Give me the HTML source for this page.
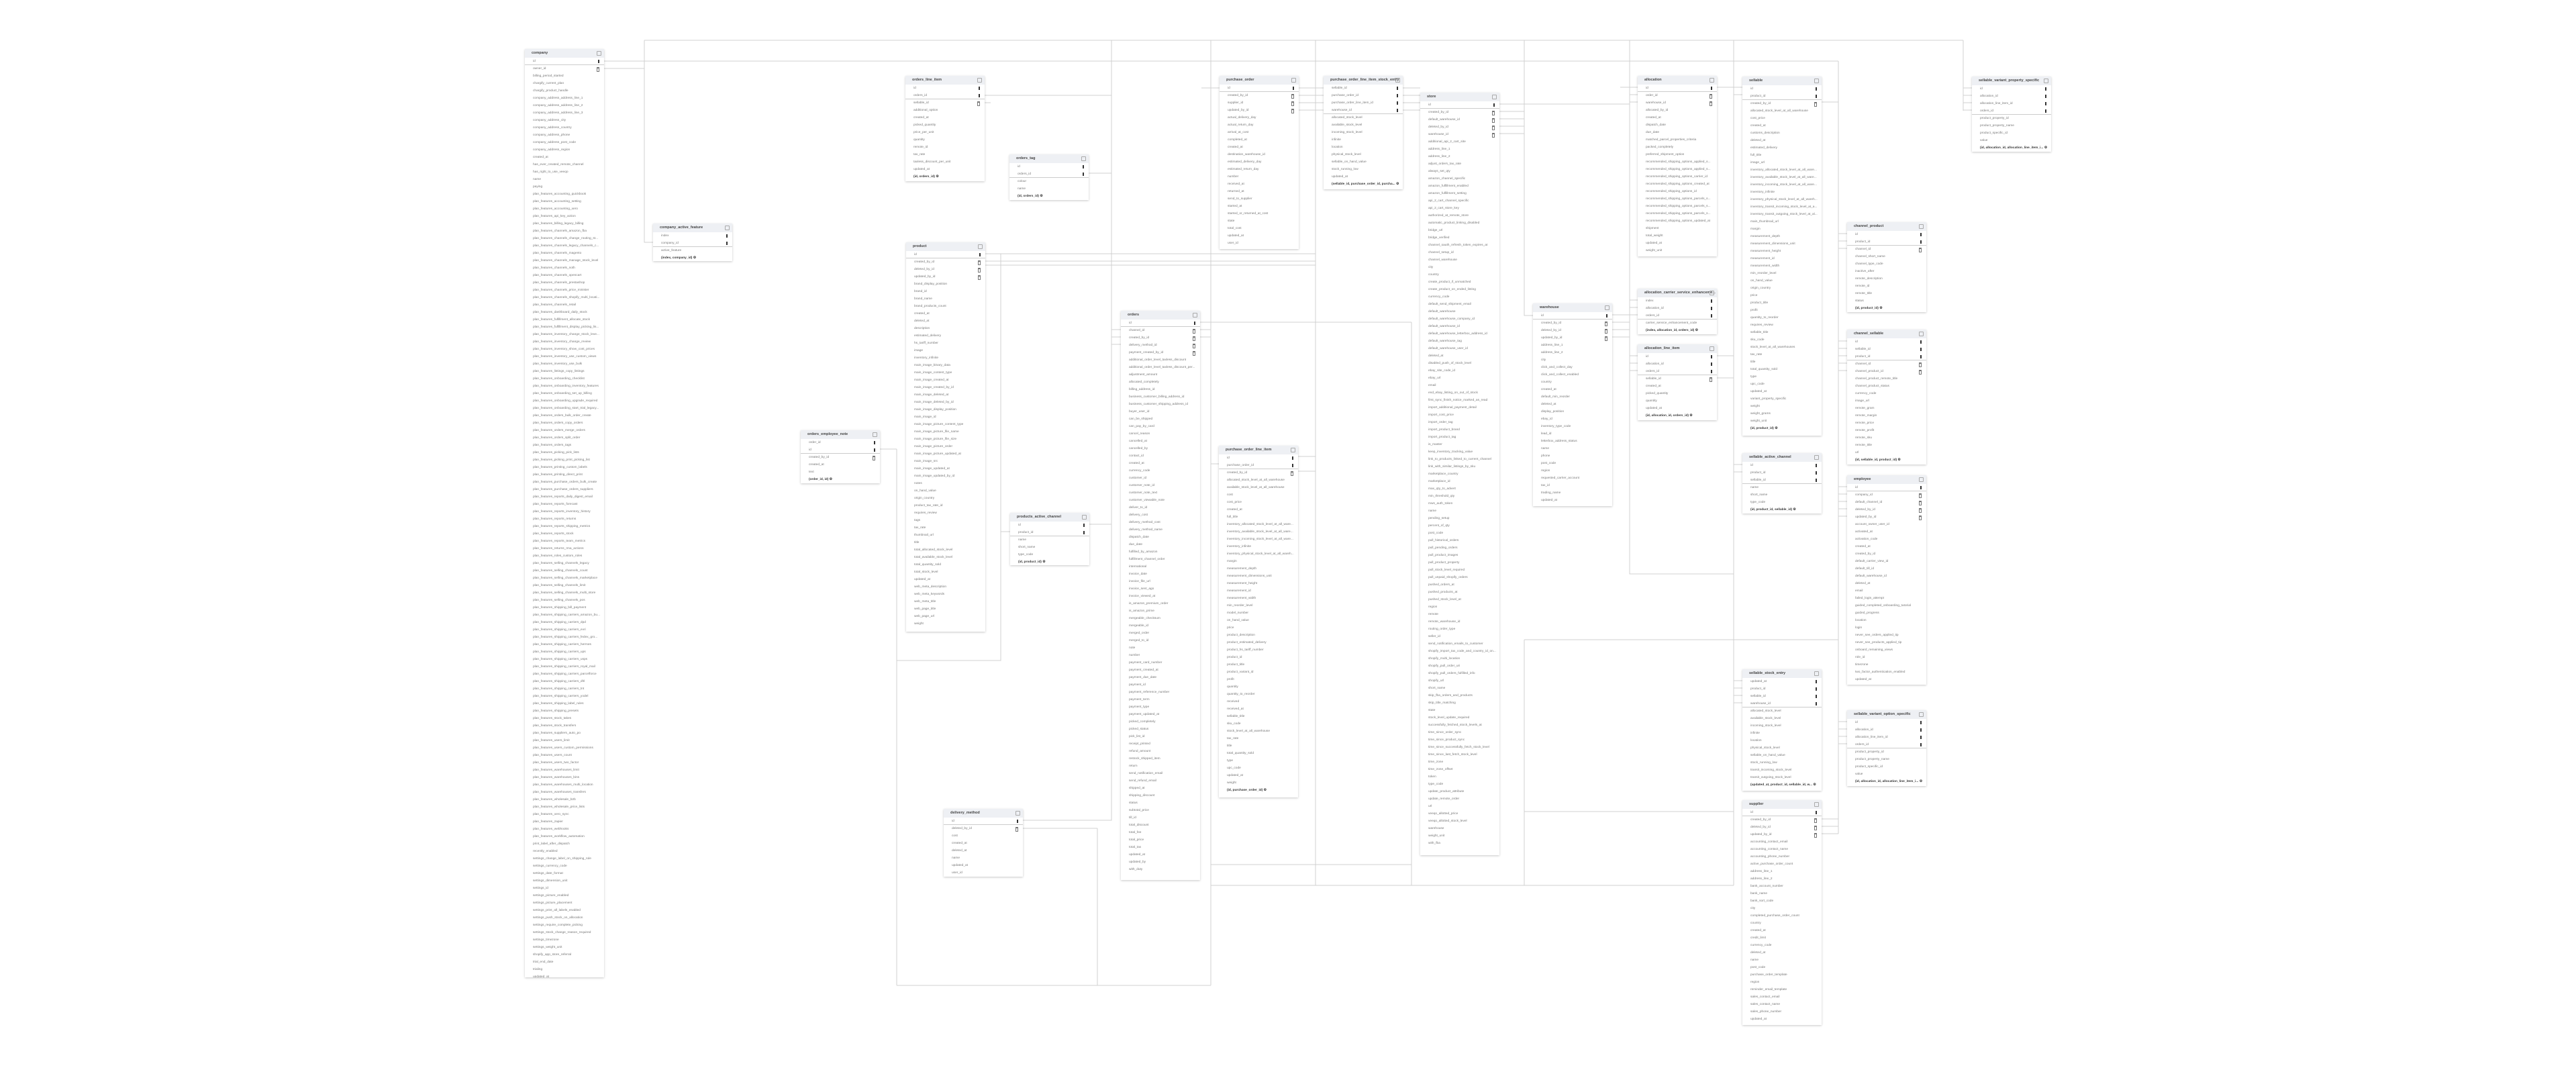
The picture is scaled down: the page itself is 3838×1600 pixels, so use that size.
<!DOCTYPE html>
<html><head><meta charset="utf-8"><style>
html,body{margin:0;padding:0;background:#fff;width:3838px;height:1600px;overflow:hidden;position:relative;font-family:"Liberation Sans",sans-serif}
svg.ln{position:absolute;left:0;top:0}
.t{position:absolute;width:118px;background:#fff;box-shadow:0 1px 3px rgba(0,0,0,.22);overflow:hidden}
.t h4{margin:0;height:13px;line-height:13px;background:#eef0f4;font-size:5.5px;font-weight:bold;color:#444;padding-left:10px;position:relative;white-space:nowrap}
.t h4:after{content:"";position:absolute;right:4px;top:3px;width:5px;height:5px;border:1px solid #aaa;border-radius:1px}
.t p{margin:0;height:11px;line-height:11px;font-size:4.8px;color:#777;padding-left:12px;position:relative;white-space:nowrap;overflow:hidden;padding-right:14px}
.t p.k:after{content:"";position:absolute;right:7px;top:3px;width:2px;height:5px;background:#333}
.t p.f:after{content:"";position:absolute;right:7px;top:3px;width:2px;height:4px;border:1px solid #777;border-top-width:2px}
.t p.s{border-bottom:1px solid #ccc;height:10px}
.t p.b{color:#333;font-weight:bold}
</style></head><body>
<svg class="ln" width="3838" height="1600" stroke="#d0d0d0" stroke-width="1" fill="none">
<path d="M960 60H2925M960 60V361H973M900 91H2739M900 102H960M2925 60V165M2925 131H2938M2925 142H2938M2925 153H2938M2925 164H2938"/>
<path d="M2739 91V1242M1656 60V1222H1524M1804 60V1468M1960 60V1319M2103 480V1319M1788 480H2103M2271 60V470H2284M2271 953V1319M2428 60V855H2583M2583 60V1319"/>
<path d="M1336 669V1468M1310 669H1336M1491 378V984H1336M1635 1234V1468M1524 1234H1635M1336 1468H1804M1804 1288H2103M1804 1319H2583M2271 1209H2583M2271 953H2739"/>
<path d="M1468 378H1960M1468 389H1960M1468 395H1960M2234 155H2428M2234 166H2271M2234 177H2271M2234 188H2271M2234 199H2271"/>
<path d="M1466 142H1656M1466 153H1476M1622 258H1656M1790 131H1817M1935 131H1972M1935 142H1972M1935 153H1972M1935 164H1972M2090 131H2116M2090 142H2116M2090 153H2116M2090 164H2116"/>
<path d="M1656 491H1670M1656 502H1670M1656 513H1670M1788 491H1804M1788 502H1804M1622 781H1656M1491 792H1505M1934 680H1960M1804 691H1816M1934 702H1960"/>
<path d="M2414 130H2440M2558 130H2583M2428 141H2440M2428 152H2440M2583 130H2596M2583 141H2596M2714 152H2739"/>
<path d="M2739 348H2752M2739 359H2752M2739 370H2752M2739 508H2752M2739 519H2752M2739 530H2752M2739 541H2752M2739 552H2752M2739 725H2752M2739 736H2752M2739 747H2752M2739 758H2752M2739 769H2752M2739 1075H2752M2739 1086H2752M2739 1097H2752M2739 1108H2752"/>
<path d="M2583 692H2596M2583 703H2596M2583 1014H2596M2583 1025H2596M2583 1036H2596M2583 1047H2596M2714 1220H2739M2714 1231H2739M2714 1242H2739M2402 469H2428M2402 480H2428M2402 491H2428M2402 502H2428M2428 447H2440M2428 458H2440M2428 469H2440M2428 530H2440M2428 541H2440M2428 552H2440M2558 530H2583M2558 563H2583"/>
</svg>

<div class="t" style="left:782px;top:73px;height:1383px"><h4>company</h4>
<p class="k s">id</p><p class="f">owner_id</p><p>billing_period_started</p><p>chargify_current_plan</p><p>chargify_product_handle</p><p>company_address_address_line_1</p><p>company_address_address_line_2</p><p>company_address_address_line_3</p><p>company_address_city</p><p>company_address_country</p><p>company_address_phone</p><p>company_address_post_code</p><p>company_address_region</p><p>created_at</p><p>has_ever_created_remote_channel</p><p>has_right_to_use_veeqo</p><p>name</p><p>paying</p>
<p>plan_features_accounting_quickbook</p><p>plan_features_accounting_setting</p><p>plan_features_accounting_xero</p><p>plan_features_api_key_action</p><p>plan_features_billing_legacy_billing</p><p>plan_features_channels_amazon_fba</p><p>plan_features_channels_change_routing_st...</p><p>plan_features_channels_legacy_channels_c...</p><p>plan_features_channels_magento</p><p>plan_features_channels_manage_stock_level</p><p>plan_features_channels_noth</p><p>plan_features_channels_opencart</p><p>plan_features_channels_prestashop</p><p>plan_features_channels_price_minister</p><p>plan_features_channels_shopify_multi_locati...</p><p>plan_features_channels_retail</p><p>plan_features_dashboard_daily_stock</p><p>plan_features_fulfillment_allocate_stock</p><p>plan_features_fulfillment_display_picking_lis...</p><p>plan_features_inventory_change_stock_leve...</p><p>plan_features_inventory_change_review</p><p>plan_features_inventory_show_cost_prices</p><p>plan_features_inventory_use_custom_views</p><p>plan_features_inventory_use_bulk</p><p>plan_features_listings_copy_listings</p><p>plan_features_onboarding_checklist</p><p>plan_features_onboarding_inventory_features</p><p>plan_features_onboarding_set_up_billing</p><p>plan_features_onboarding_upgrade_required</p><p>plan_features_onboarding_start_trial_legacy...</p><p>plan_features_orders_bulk_order_create</p><p>plan_features_orders_copy_orders</p><p>plan_features_orders_merge_orders</p><p>plan_features_orders_split_order</p><p>plan_features_orders_tags</p><p>plan_features_picking_pick_lists</p><p>plan_features_picking_print_picking_list</p><p>plan_features_printing_custom_labels</p><p>plan_features_printing_direct_print</p><p>plan_features_purchase_orders_bulk_create</p><p>plan_features_purchase_orders_suppliers</p><p>plan_features_reports_daily_digest_email</p><p>plan_features_reports_forecast</p><p>plan_features_reports_inventory_history</p><p>plan_features_reports_returns</p><p>plan_features_reports_shipping_metrics</p><p>plan_features_reports_stock</p><p>plan_features_reports_team_metrics</p><p>plan_features_returns_rma_actions</p><p>plan_features_roles_custom_roles</p><p>plan_features_selling_channels_legacy</p><p>plan_features_selling_channels_count</p><p>plan_features_selling_channels_marketplace</p><p>plan_features_selling_channels_limit</p><p>plan_features_selling_channels_multi_store</p><p>plan_features_selling_channels_pos</p><p>plan_features_shipping_bill_payment</p><p>plan_features_shipping_carriers_amazon_bu...</p><p>plan_features_shipping_carriers_dpd</p><p>plan_features_shipping_carriers_evri</p><p>plan_features_shipping_carriers_fedex_gro...</p><p>plan_features_shipping_carriers_hermes</p><p>plan_features_shipping_carriers_ups</p><p>plan_features_shipping_carriers_usps</p><p>plan_features_shipping_carriers_royal_mail</p><p>plan_features_shipping_carriers_parcelforce</p><p>plan_features_shipping_carriers_dhl</p><p>plan_features_shipping_carriers_tnt</p><p>plan_features_shipping_carriers_yodel</p><p>plan_features_shipping_label_rules</p><p>plan_features_shipping_presets</p><p>plan_features_stock_takes</p><p>plan_features_stock_transfers</p><p>plan_features_suppliers_auto_po</p><p>plan_features_users_limit</p><p>plan_features_users_custom_permissions</p><p>plan_features_users_count</p><p>plan_features_users_two_factor</p><p>plan_features_warehouses_limit</p><p>plan_features_warehouses_bins</p><p>plan_features_warehouses_multi_location</p><p>plan_features_warehouses_transfers</p><p>plan_features_wholesale_b2b</p><p>plan_features_wholesale_price_lists</p><p>plan_features_xero_sync</p><p>plan_features_zapier</p><p>plan_features_webhooks</p><p>plan_features_workflow_automation</p>
<p>print_label_after_dispatch</p><p>recently_enabled</p><p>settings_change_label_on_shipping_rule</p><p>settings_currency_code</p><p>settings_date_format</p><p>settings_dimension_unit</p><p>settings_id</p><p>settings_picture_enabled</p><p>settings_picture_placement</p><p>settings_print_all_labels_enabled</p><p>settings_push_stock_on_allocation</p><p>settings_require_complete_picking</p><p>settings_stock_change_reason_required</p><p>settings_timezone</p><p>settings_weight_unit</p><p>shopify_app_store_referral</p><p>trial_end_date</p><p>trialing</p><p>updated_at</p><p>veeqo_product_name</p></div>

<div class="t" style="left:973px;top:333px;height:56px"><h4>company_active_feature</h4>
<p class="k">index</p><p class="k s">company_id</p><p>active_feature</p><p class="b">(index, company_id) ⚙</p></div>

<div class="t" style="left:1193px;top:641px;height:79px"><h4>orders_employee_note</h4>
<p class="k">order_id</p><p class="k s">id</p><p class="f">created_by_id</p><p>created_at</p><p>text</p><p class="b">(order_id, id) ⚙</p></div>

<div class="t" style="left:1349px;top:113px;height:157px"><h4>orders_line_item</h4>
<p class="k">id</p><p class="k s">orders_id</p><p class="f">sellable_id</p><p>additional_option</p><p>created_at</p><p>picked_quantity</p><p>price_per_unit</p><p>quantity</p><p>remote_id</p><p>tax_rate</p><p>taxless_discount_per_unit</p><p>updated_at</p><p class="b">(id, orders_id) ⚙</p></div>

<div class="t" style="left:1504px;top:230px;height:68px"><h4>orders_tag</h4>
<p class="k">id</p><p class="k s">orders_id</p><p>colour</p><p>name</p><p class="b">(id, orders_id) ⚙</p></div>

<div class="t" style="left:1350px;top:361px;height:580px"><h4>product</h4>
<p class="k s">id</p><p class="f">created_by_id</p><p class="f">deleted_by_id</p><p class="f">updated_by_id</p><p>brand_display_position</p><p>brand_id</p><p>brand_name</p><p>brand_products_count</p><p>created_at</p><p>deleted_at</p><p>description</p><p>estimated_delivery</p><p>hs_tariff_number</p><p>image</p><p>inventory_infinite</p><p>main_image_binary_data</p><p>main_image_content_type</p><p>main_image_created_at</p><p>main_image_created_by_id</p><p>main_image_deleted_at</p><p>main_image_deleted_by_id</p><p>main_image_display_position</p><p>main_image_id</p><p>main_image_picture_content_type</p><p>main_image_picture_file_name</p><p>main_image_picture_file_size</p><p>main_image_picture_order</p><p>main_image_picture_updated_at</p><p>main_image_src</p><p>main_image_updated_at</p><p>main_image_updated_by_id</p><p>notes</p><p>on_hand_value</p><p>origin_country</p><p>product_tax_rate_id</p><p>requires_review</p><p>tags</p><p>tax_rate</p><p>thumbnail_url</p><p>title</p><p>total_allocated_stock_level</p><p>total_available_stock_level</p><p>total_quantity_sold</p><p>total_stock_level</p><p>updated_at</p><p>web_meta_description</p><p>web_meta_keywords</p><p>web_meta_title</p><p>web_page_title</p><p>web_page_url</p><p>weight</p></div>

<div class="t" style="left:1505px;top:764px;height:78px"><h4>products_active_channel</h4>
<p class="k">id</p><p class="k s">product_id</p><p>name</p><p>short_name</p><p>type_code</p><p class="b">(id, product_id) ⚙</p></div>

<div class="t" style="left:1406px;top:1205px;height:101px"><h4>delivery_method</h4>
<p class="k s">id</p><p class="f">deleted_by_id</p><p>cost</p><p>created_at</p><p>deleted_at</p><p>name</p><p>updated_at</p><p>user_id</p></div>

<div class="t" style="left:1670px;top:463px;height:848px"><h4>orders</h4>
<p class="k s">id</p><p class="f">channel_id</p><p class="f">created_by_id</p><p class="f">delivery_method_id</p><p class="f">payment_created_by_id</p><p>additional_order_level_taxless_discount</p><p>additional_order_level_taxless_discount_per...</p><p>adjustment_amount</p><p>allocated_completely</p><p>billing_address_id</p><p>business_customer_billing_address_id</p><p>business_customer_shipping_address_id</p><p>buyer_user_id</p><p>can_be_shipped</p><p>can_pay_by_card</p><p>cancel_reason</p><p>cancelled_at</p><p>cancelled_by</p><p>contact_id</p><p>created_at</p><p>currency_code</p><p>customer_id</p><p>customer_note_id</p><p>customer_note_text</p><p>customer_viewable_note</p><p>deliver_to_id</p><p>delivery_cost</p><p>delivery_method_cost</p><p>delivery_method_name</p><p>dispatch_date</p><p>due_date</p><p>fulfilled_by_amazon</p><p>fulfillment_channel_order</p><p>international</p><p>invoice_date</p><p>invoice_file_url</p><p>invoice_sent_ago</p><p>invoice_viewed_at</p><p>is_amazon_premium_order</p><p>is_amazon_prime</p><p>mergeable_checksum</p><p>mergeable_id</p><p>merged_order</p><p>merged_to_id</p><p>note</p><p>number</p><p>payment_card_number</p><p>payment_created_at</p><p>payment_due_date</p><p>payment_id</p><p>payment_reference_number</p><p>payment_term</p><p>payment_type</p><p>payment_updated_at</p><p>picked_completely</p><p>picked_status</p><p>pick_list_id</p><p>receipt_printed</p><p>refund_amount</p><p>restock_shipped_item</p><p>return</p><p>send_notification_email</p><p>send_refund_email</p><p>shipped_at</p><p>shipping_discount</p><p>status</p><p>subtotal_price</p><p>till_id</p><p>total_discount</p><p>total_fee</p><p>total_price</p><p>total_tax</p><p>updated_at</p><p>updated_by</p><p>with_duty</p></div>

<div class="t" style="left:1817px;top:113px;height:258px"><h4>purchase_order</h4>
<p class="k s">id</p><p class="f">created_by_id</p><p class="f">supplier_id</p><p class="f">updated_by_id</p><p>actual_delivery_day</p><p>actual_return_day</p><p>arrival_at_cost</p><p>completed_at</p><p>created_at</p><p>destination_warehouse_id</p><p>estimated_delivery_day</p><p>estimated_return_day</p><p>number</p><p>received_at</p><p>returned_at</p><p>send_to_supplier</p><p>started_at</p><p>started_or_returned_at_cost</p><p>state</p><p>total_cost</p><p>updated_at</p><p>user_id</p></div>

<div class="t" style="left:1816px;top:664px;height:524px"><h4>purchase_order_line_item</h4>
<p class="k">id</p><p class="k s">purchase_order_id</p><p class="f">created_by_id</p><p>allocated_stock_level_at_all_warehouse</p><p>available_stock_level_at_all_warehouse</p><p>cost</p><p>cost_price</p><p>created_at</p><p>full_title</p><p>inventory_allocated_stock_level_at_all_ware...</p><p>inventory_available_stock_level_at_all_ware...</p><p>inventory_incoming_stock_level_at_all_ware...</p><p>inventory_infinite</p><p>inventory_physical_stock_level_at_all_wareh...</p><p>margin</p><p>measurement_depth</p><p>measurement_dimensions_unit</p><p>measurement_height</p><p>measurement_id</p><p>measurement_width</p><p>min_reorder_level</p><p>model_number</p><p>on_hand_value</p><p>price</p><p>product_description</p><p>product_estimated_delivery</p><p>product_hs_tariff_number</p><p>product_id</p><p>product_title</p><p>product_variant_id</p><p>profit</p><p>quantity</p><p>quantity_to_reorder</p><p>received</p><p>received_at</p><p>sellable_title</p><p>sku_code</p><p>stock_level_at_all_warehouse</p><p>tax_rate</p><p>title</p><p>total_quantity_sold</p><p>type</p><p>upc_code</p><p>updated_at</p><p>weight</p><p class="b">(id, purchase_order_id) ⚙</p></div>

<div class="t" style="left:1972px;top:113px;height:169px"><h4>purchase_order_line_item_stock_entry</h4>
<p class="k">sellable_id</p><p class="k">purchase_order_id</p><p class="k">purchase_order_line_item_id</p><p class="k s">warehouse_id</p><p>allocated_stock_level</p><p>available_stock_level</p><p>incoming_stock_level</p><p>infinite</p><p>location</p><p>physical_stock_level</p><p>sellable_on_hand_value</p><p>stock_running_low</p><p>updated_at</p><p class="b">(sellable_id, purchase_order_id, purcha... ⚙</p></div>

<div class="t" style="left:2116px;top:138px;height:1136px"><h4>store</h4>
<p class="k s">id</p><p class="f">created_by_id</p><p class="f">default_warehouse_id</p><p class="f">deleted_by_id</p><p class="f">warehouse_id</p><p>additional_api_2_cart_site</p><p>address_line_1</p><p>address_line_2</p><p>adjust_orders_tax_rate</p><p>always_set_qty</p><p>amazon_channel_specific</p><p>amazon_fulfillment_enabled</p><p>amazon_fulfillment_setting</p><p>api_2_cart_channel_specific</p><p>api_2_cart_store_key</p><p>authorized_at_remote_store</p><p>automatic_product_linking_disabled</p><p>bridge_url</p><p>bridge_verified</p><p>channel_oauth_refresh_token_expires_at</p><p>channel_setup_id</p><p>channel_warehouse</p><p>city</p><p>country</p><p>create_product_if_unmatched</p><p>create_product_on_ended_listing</p><p>currency_code</p><p>default_send_shipment_email</p><p>default_warehouse</p><p>default_warehouse_company_id</p><p>default_warehouse_id</p><p>default_warehouse_letterbox_address_id</p><p>default_warehouse_tag</p><p>default_warehouse_user_id</p><p>deleted_at</p><p>disabled_push_of_stock_level</p><p>ebay_site_code_id</p><p>ebay_url</p><p>email</p><p>end_ebay_listing_on_out_of_stock</p><p>first_sync_finish_notice_marked_as_read</p><p>import_additional_payment_detail</p><p>import_cost_price</p><p>import_order_tag</p><p>import_product_brand</p><p>import_product_tag</p><p>is_master</p><p>keep_inventory_tracking_value</p><p>link_to_products_linked_to_current_channel</p><p>link_with_similar_listings_by_sku</p><p>marketplace_country</p><p>marketplace_id</p><p>max_qty_to_advert</p><p>min_threshold_qty</p><p>mws_auth_token</p><p>name</p><p>pending_setup</p><p>percent_of_qty</p><p>post_code</p><p>pull_historical_orders</p><p>pull_pending_orders</p><p>pull_product_images</p><p>pull_product_property</p><p>pull_stock_level_required</p><p>pull_unpaid_shopify_orders</p><p>pushed_orders_at</p><p>pushed_products_at</p><p>pushed_stock_level_at</p><p>region</p><p>remote</p><p>remote_warehouse_id</p><p>routing_order_type</p><p>seller_id</p><p>send_notification_emails_to_customer</p><p>shopify_import_tax_code_and_country_id_on...</p><p>shopify_multi_location</p><p>shopify_pull_order_uri</p><p>shopify_pull_orders_fulfilled_info</p><p>shopify_url</p><p>short_name</p><p>skip_fba_orders_and_products</p><p>skip_title_matching</p><p>state</p><p>stock_level_update_required</p><p>successfully_fetched_stock_levels_at</p><p>time_since_order_sync</p><p>time_since_product_sync</p><p>time_since_successfully_fetch_stock_level</p><p>time_since_last_fetch_stock_level</p><p>time_zone</p><p>time_zone_offset</p><p>token</p><p>type_code</p><p>update_product_attribute</p><p>update_remote_order</p><p>url</p><p>veeqo_allotted_price</p><p>veeqo_allotted_stock_level</p><p>warehouse</p><p>weight_unit</p><p>with_fba</p></div>

<div class="t" style="left:2284px;top:452px;height:302px"><h4>warehouse</h4>
<p class="k s">id</p><p class="f">created_by_id</p><p class="f">deleted_by_id</p><p class="f">updated_by_id</p><p>address_line_1</p><p>address_line_2</p><p>city</p><p>click_and_collect_day</p><p>click_and_collect_enabled</p><p>country</p><p>created_at</p><p>default_min_reorder</p><p>deleted_at</p><p>display_position</p><p>ebay_id</p><p>inventory_type_code</p><p>lead_id</p><p>letterbox_address_status</p><p>name</p><p>phone</p><p>post_code</p><p>region</p><p>requested_carrier_account</p><p>tax_id</p><p>trading_name</p><p>updated_at</p></div>

<div class="t" style="left:2440px;top:113px;height:269px"><h4>allocation</h4>
<p class="k s">id</p><p class="f">order_id</p><p class="f">warehouse_id</p><p>allocated_by_id</p><p>created_at</p><p>dispatch_date</p><p>due_date</p><p>matched_parcel_properties_criteria</p><p>packed_completely</p><p>preferred_shipment_option</p><p>recommended_shipping_options_applied_s...</p><p>recommended_shipping_options_applied_s...</p><p>recommended_shipping_options_carrier_id</p><p>recommended_shipping_options_created_at</p><p>recommended_shipping_options_id</p><p>recommended_shipping_options_parcels_s...</p><p>recommended_shipping_options_parcels_s...</p><p>recommended_shipping_options_parcels_s...</p><p>recommended_shipping_options_updated_at</p><p>shipment</p><p>total_weight</p><p>updated_at</p><p>weight_unit</p></div>

<div class="t" style="left:2440px;top:430px;height:68px"><h4>allocation_carrier_service_enhanceme...</h4>
<p class="k">index</p><p class="k">allocation_id</p><p class="k s">orders_id</p><p>carrier_service_enhancement_code</p><p class="b">(index, allocation_id, orders_id) ⚙</p></div>

<div class="t" style="left:2440px;top:513px;height:113px"><h4>allocation_line_item</h4>
<p class="k">id</p><p class="k">allocation_id</p><p class="k s">orders_id</p><p class="f">sellable_id</p><p>created_at</p><p>picked_quantity</p><p>quantity</p><p>updated_at</p><p class="b">(id, allocation_id, orders_id) ⚙</p></div>

<div class="t" style="left:2596px;top:114px;height:535px"><h4>sellable</h4>
<p class="k">id</p><p class="k s">product_id</p><p class="f">created_by_id</p><p>allocated_stock_level_at_all_warehouse</p><p>cost_price</p><p>created_at</p><p>customs_description</p><p>deleted_at</p><p>estimated_delivery</p><p>full_title</p><p>image_url</p><p>inventory_allocated_stock_level_at_all_ware...</p><p>inventory_available_stock_level_at_all_ware...</p><p>inventory_incoming_stock_level_at_all_ware...</p><p>inventory_infinite</p><p>inventory_physical_stock_level_at_all_wareh...</p><p>inventory_transit_incoming_stock_level_at_a...</p><p>inventory_transit_outgoing_stock_level_at_al...</p><p>main_thumbnail_url</p><p>margin</p><p>measurement_depth</p><p>measurement_dimensions_unit</p><p>measurement_height</p><p>measurement_id</p><p>measurement_width</p><p>min_reorder_level</p><p>on_hand_value</p><p>origin_country</p><p>price</p><p>product_title</p><p>profit</p><p>quantity_to_reorder</p><p>requires_review</p><p>sellable_title</p><p>sku_code</p><p>stock_level_at_all_warehouses</p><p>tax_rate</p><p>title</p><p>total_quantity_sold</p><p>type</p><p>upc_code</p><p>updated_at</p><p>variant_property_specific</p><p>weight</p><p>weight_grams</p><p>weight_unit</p><p class="b">(id, product_id) ⚙</p></div>

<div class="t" style="left:2596px;top:675px;height:90px"><h4>sellable_active_channel</h4>
<p class="k">id</p><p class="k">product_id</p><p class="k s">sellable_id</p><p>name</p><p>short_name</p><p>type_code</p><p class="b">(id, product_id, sellable_id) ⚙</p></div>

<div class="t" style="left:2596px;top:997px;height:181px"><h4>sellable_stock_entry</h4>
<p class="k">updated_at</p><p class="k">product_id</p><p class="k">sellable_id</p><p class="k s">warehouse_id</p><p>allocated_stock_level</p><p>available_stock_level</p><p>incoming_stock_level</p><p>infinite</p><p>location</p><p>physical_stock_level</p><p>sellable_on_hand_value</p><p>stock_running_low</p><p>transit_incoming_stock_level</p><p>transit_outgoing_stock_level</p><p class="b">(updated_at, product_id, sellable_id, w... ⚙</p></div>

<div class="t" style="left:2596px;top:1192px;height:335px"><h4>supplier</h4>
<p class="k s">id</p><p class="f">created_by_id</p><p class="f">deleted_by_id</p><p class="f">updated_by_id</p><p>accounting_contact_email</p><p>accounting_contact_name</p><p>accounting_phone_number</p><p>active_purchase_order_count</p><p>address_line_1</p><p>address_line_2</p><p>bank_account_number</p><p>bank_name</p><p>bank_sort_code</p><p>city</p><p>completed_purchase_order_count</p><p>country</p><p>created_at</p><p>credit_limit</p><p>currency_code</p><p>deleted_at</p><p>name</p><p>post_code</p><p>purchase_order_template</p><p>region</p><p>reminder_email_template</p><p>sales_contact_email</p><p>sales_contact_name</p><p>sales_phone_number</p><p>updated_at</p></div>

<div class="t" style="left:2752px;top:331px;height:134px"><h4>channel_product</h4>
<p class="k">id</p><p class="k s">product_id</p><p class="f">channel_id</p><p>channel_short_name</p><p>channel_type_code</p><p>inactive_after</p><p>remote_description</p><p>remote_id</p><p>remote_title</p><p>status</p><p class="b">(id, product_id) ⚙</p></div>

<div class="t" style="left:2752px;top:491px;height:201px"><h4>channel_sellable</h4>
<p class="k">id</p><p class="k">sellable_id</p><p class="k s">product_id</p><p class="f">channel_id</p><p class="f">channel_product_id</p><p>channel_product_remote_title</p><p>channel_product_status</p><p>currency_code</p><p>image_url</p><p>remote_gram</p><p>remote_margin</p><p>remote_price</p><p>remote_profit</p><p>remote_sku</p><p>remote_title</p><p>url</p><p class="b">(id, sellable_id, product_id) ⚙</p></div>

<div class="t" style="left:2752px;top:708px;height:312px"><h4>employee</h4>
<p class="k s">id</p><p class="f">company_id</p><p class="f">default_channel_id</p><p class="f">deleted_by_id</p><p class="f">updated_by_id</p><p>account_owner_user_id</p><p>activated_at</p><p>activation_code</p><p>created_at</p><p>created_by_id</p><p>default_carrier_view_id</p><p>default_till_id</p><p>default_warehouse_id</p><p>deleted_at</p><p>email</p><p>failed_login_attempt</p><p>guided_completed_onboarding_tutorial</p><p>guided_progress</p><p>location</p><p>login</p><p>never_see_orders_applied_tip</p><p>never_see_products_applied_tip</p><p>onboard_remaining_views</p><p>role_id</p><p>timezone</p><p>two_factor_authentication_enabled</p><p>updated_at</p></div>

<div class="t" style="left:2752px;top:1058px;height:113px"><h4>sellable_variant_option_specific</h4>
<p class="k">id</p><p class="k">allocation_id</p><p class="k">allocation_line_item_id</p><p class="k s">orders_id</p><p>product_property_id</p><p>product_property_name</p><p>product_specific_id</p><p>value</p><p class="b">(id, allocation_id, allocation_line_item_i... ⚙</p></div>

<div class="t" style="left:2938px;top:114px;height:112px"><h4>sellable_variant_property_specific</h4>
<p class="k">id</p><p class="k">allocation_id</p><p class="k">allocation_line_item_id</p><p class="k s">orders_id</p><p>product_property_id</p><p>product_property_name</p><p>product_specific_id</p><p>value</p><p class="b">(id, allocation_id, allocation_line_item_i... ⚙</p></div>

</body></html>
